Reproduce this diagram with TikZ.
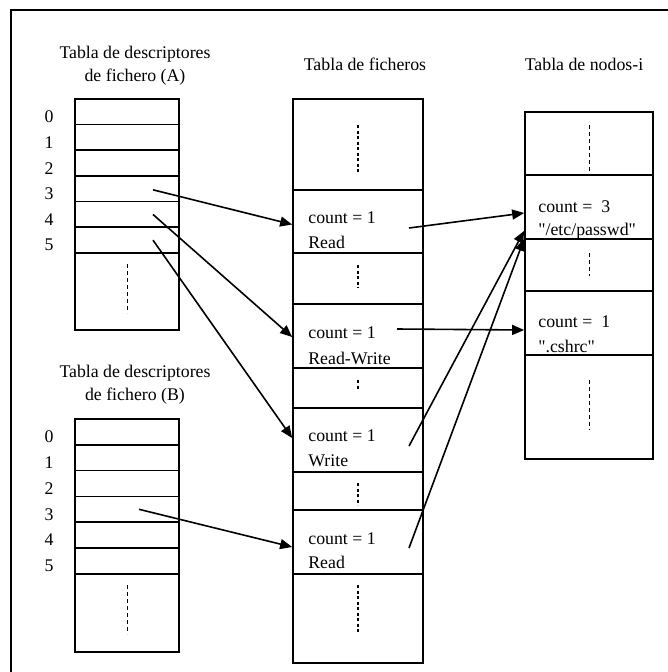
\documentclass[tikz,border=0pt]{standalone}
\usepackage{fontspec}
\setmainfont[Ligatures=TeXOff]{Liberation Serif}
\usetikzlibrary{arrows.meta}

\begin{document}
\begin{tikzpicture}[x=1pt, y=-1pt,
		every node/.style={inner sep=0pt, font=\fontsize{17.8}{23}\selectfont},
		box/.style={draw, line width=1.7pt, minimum width=#1},
		arr/.style={line width=1.6pt, -{Triangle[length=12pt, width=10pt]}},
		vdash/.style={line width=0.9pt, dash pattern=on 4pt off 3pt},
		vdots/.style={line width=2.8pt, dash pattern=on 3pt off 2.5pt}]
	\useasboundingbox (0,0) rectangle (667,672);
	\draw [line width=1.7pt] (11,690) -- (11,10) -- (690,10);

	% titulos
	\node [align=center] (tA) at (135,66) {Tabla de descriptores\\de fichero (A)};
	\node [align=center] (tB) at (135,385) {Tabla de descriptores\\de fichero (B)};
	\node (tF) at (365,64) {Tabla de ficheros};
	\node (tN) at (584,64) {Tabla de nodos-i};

	% tablas de descriptores
	\foreach \i in {0,...,5} {
		\node [box=104pt, minimum height=25.67pt] (A\i) at (127,{111.8+25.67*\i}) {};
		\node (lA\i) at (49,{116.8+25.67*\i}) {\i};
		\node [box=104pt, minimum height=25.8pt] (B\i) at (127,{431.9+25.8*\i}) {};
		\node (lB\i) at (49,{436.9+25.8*\i}) {\i};
	}
	\node [box=104pt, minimum height=77pt] (A6) at (127,291.5) {};
	\node [box=104pt, minimum height=78pt] (B6) at (127,613) {};
	\draw [vdash] (127,264) -- (127,313);
	\draw [vdash] (127,585) -- (127,634);

	% tabla de ficheros
	\foreach \n/\c/\h in {Fa/144.5/91, F1/221.5/63, Fb/278.5/51, F2/336/64, Fc/388/40,
			F3/440/64, Fd/491/38, F4/542/64, Fe/618.5/89}
		\node [box=130pt, minimum height=\h pt] (\n) at (358,\c) {};
	\foreach \a/\b in {125/173, 265/288, 380/389, 483/505, 585/633}
		\draw [vdots] (358,\a) -- (358,\b);
	\node [anchor=base west] (c1) at ([xshift=16pt, yshift=-34pt]F1.north west) {count = 1};
	\node [anchor=base west] (m1) at ([xshift=16pt, yshift=-59pt]F1.north west) {Read};
	\node [anchor=base west] (c2) at ([xshift=16pt, yshift=-35pt]F2.north west) {count = 1};
	\node [anchor=base west] (m2) at ([xshift=16pt, yshift=-61pt]F2.north west) {Read-Write};
	\node [anchor=base west] (c3) at ([xshift=16pt, yshift=-34pt]F3.north west) {count = 1};
	\node [anchor=base west] (m3) at ([xshift=16pt, yshift=-59pt]F3.north west) {Write};
	\node [anchor=base west] (c4) at ([xshift=16pt, yshift=-35pt]F4.north west) {count = 1};
	\node [anchor=base west] (m4) at ([xshift=16pt, yshift=-59pt]F4.north west) {Read};

	% tabla de nodos-i
	\foreach \n/\c/\h in {Na/143.5/63, N1/207/64, Nb/265/52, N2/323/64, Nc/407/104}
		\node [box=128pt, minimum height=\h pt] (\n) at (589,\c) {};
	\foreach \a/\b in {125/173, 253/276, 380/430}
		\draw [vdash] (589,\a) -- (589,\b);
	\node [anchor=base west] (n1) at ([xshift=14pt, yshift=-38pt]N1.north west) {count =\ \ 3};
	\node [anchor=base west] (p1) at ([xshift=14pt, yshift=-61pt]N1.north west) {"/etc/passwd"};
	\node [anchor=base west] (n2) at ([xshift=14pt, yshift=-37pt]N2.north west) {count =\ \ 1};
	\node [anchor=base west] (p2) at ([xshift=14pt, yshift=-62pt]N2.north west) {".cshrc"};

	% punteros
	\draw [arr] ([xshift=26pt, yshift=-1pt]A3.center) -- ([yshift=-3pt]F1.west);
	\draw [arr] ([xshift=26pt]A4.center) -- ([yshift=-1pt]F2.west);
	\draw [arr] ([xshift=26pt]A5.center) -- ([yshift=2pt]F3.west);
	\draw [arr] ([xshift=12pt]B3.center) -- ([yshift=-5pt]F4.west);
	\draw [arr] ([xshift=51pt, yshift=-6.5pt]F1.center) -- ([yshift=-6pt]N1.west);
	\draw [arr] ([xshift=39pt, yshift=7pt]F2.center) -- ([yshift=-7pt]N2.west);
	\draw [arr] ([xshift=51pt, yshift=-6pt]F3.center) -- ([yshift=9pt]N1.south west);
	\draw [arr] ([xshift=51pt, yshift=-6pt]F4.center) -- ([yshift=1pt]N1.south west);
\end{tikzpicture}
\end{document}
